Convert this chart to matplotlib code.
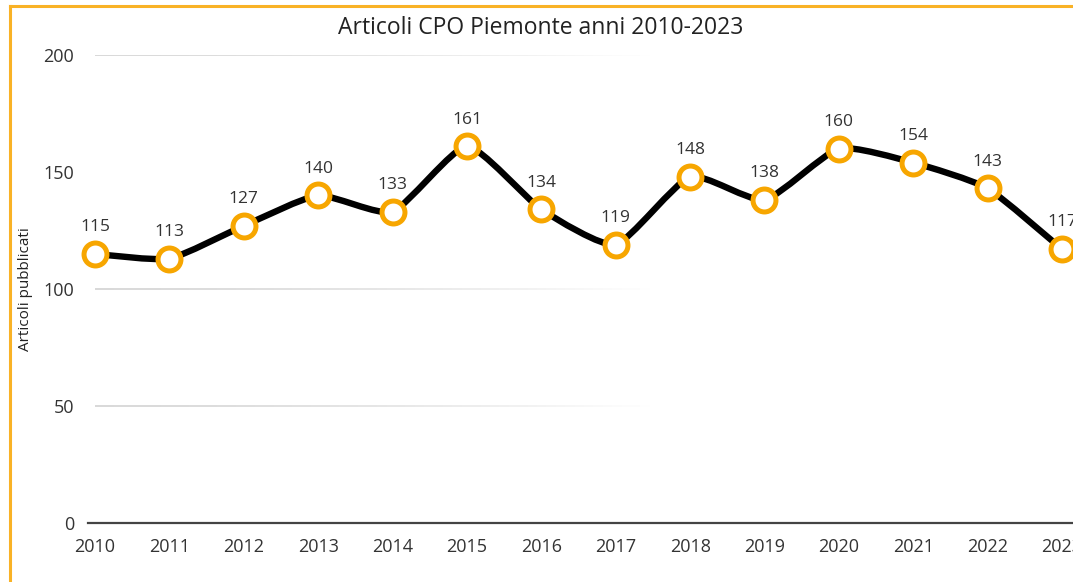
import numpy as np
import matplotlib
matplotlib.use("Agg")
from matplotlib import pyplot as plt
from matplotlib.path import Path
from matplotlib.patches import PathPatch
from matplotlib.collections import LineCollection
from matplotlib.lines import Line2D
import matplotlib.transforms as mtransforms

# data
years = [2010, 2011, 2012, 2013, 2014, 2015, 2016, 2017, 2018, 2019, 2020, 2021, 2022, 2023]
articoli = [115, 113, 127, 140, 133, 161, 134, 119, 148, 138, 160, 154, 143, 117]
yticks = [0, 50, 100, 150, 200]
grid_levels = [50, 100, 200]

title = "Articoli CPO Piemonte anni 2010-2023"
ylabel = "Articoli pubblicati"

ORANGE = "#f7a600"
FRAME = "#f9b226"
TXT = "#333333"

plt.rcParams['font.family'] = ['Open Sans', 'DejaVu Sans']


def cardinal_path(x, y, tension=0.45):
    """cubic bezier path through the points, cardinal spline"""
    x = np.asarray(x, float)
    y = np.asarray(y, float)
    n = len(x)
    k = (1 - tension) / 6
    verts = [(x[0], y[0])]
    codes = [Path.MOVETO]
    for i in range(n - 1):
        i0 = max(i - 1, 0)
        i3 = min(i + 2, n - 1)
        c1 = (x[i] + k * (x[i+1] - x[i0]), y[i] + k * (y[i+1] - y[i0]))
        c2 = (x[i+1] - k * (x[i3] - x[i]), y[i+1] - k * (y[i3] - y[i]))
        verts += [c1, c2, (x[i+1], y[i+1])]
        codes += [Path.CURVE4] * 3
    return Path(verts, codes)


fig = plt.figure(figsize=(10.73, 5.82), dpi=100)
W, H = 1073, 582
ax = fig.add_axes([88 / W, 1 - 523 / H, (W - 88) / W, (523 - 55) / H])

ax.set_xlim(2010 - 7 / 74.4, 2023 + 11 / 74.4)
ax.set_ylim(0, 200)

# fading gridlines
blend = mtransforms.blended_transform_factory(ax.transAxes, ax.transData)
nseg = 60
xs = np.linspace(0.007, 0.58, nseg + 1)
for lev in grid_levels:
    segs = [[(xs[i], lev), (xs[i+1], lev)] for i in range(nseg)]
    alphas = np.clip(1.0 - np.linspace(0, 1, nseg) ** 1.6, 0, 1)
    cols = [(0.84, 0.84, 0.84, a) for a in alphas]
    lc = LineCollection(segs, colors=cols, linewidths=1.3, transform=blend, zorder=1)
    ax.add_collection(lc)

# smooth line
curve = PathPatch(cardinal_path(years, articoli), facecolor="none", edgecolor="black",
                  lw=4.6, capstyle="round", joinstyle="round", zorder=3)
ax.add_patch(curve)

ax.plot(years, articoli, linestyle="none", marker="o", markersize=16.5,
        markerfacecolor="white", markeredgecolor=ORANGE, markeredgewidth=3.6,
        zorder=4, clip_on=False)

for x, v in zip(years, articoli):
    ax.annotate(str(v), (x, v), xytext=(0, 13.5), textcoords="offset points",
                ha="center", va="bottom", fontsize=12.5, color=TXT, zorder=5)

for side in ["top", "right", "left"]:
    ax.spines[side].set_visible(False)
ax.spines["bottom"].set_color("#444444")
ax.spines["bottom"].set_linewidth(1.6)

ax.set_xticks(years)
ax.set_xticklabels([str(y) for y in years])
ax.set_yticks(yticks)
ax.tick_params(axis="both", length=0, labelsize=13, labelcolor=TXT)
ax.tick_params(axis="x", pad=11)
ax.tick_params(axis="y", pad=10)
ax.set_ylabel(ylabel, fontsize=11, color="#222222")
ax.yaxis.set_label_coords(-55 / (W - 88), 0.5)

fig.text(541 / W, 1 - 28 / H, title, ha="center", va="center", fontsize=16.5, color="#222222")

# orange frame (top and left edges)
fig.add_artist(Line2D([10 / W, 1], [1 - 6 / H, 1 - 6 / H], color=FRAME, lw=2.2,
                      transform=fig.transFigure))
fig.add_artist(Line2D([10 / W, 10 / W], [0, 1 - 6 / H], color=FRAME, lw=2.2,
                      transform=fig.transFigure))

fig.savefig("out.png", dpi=100)
